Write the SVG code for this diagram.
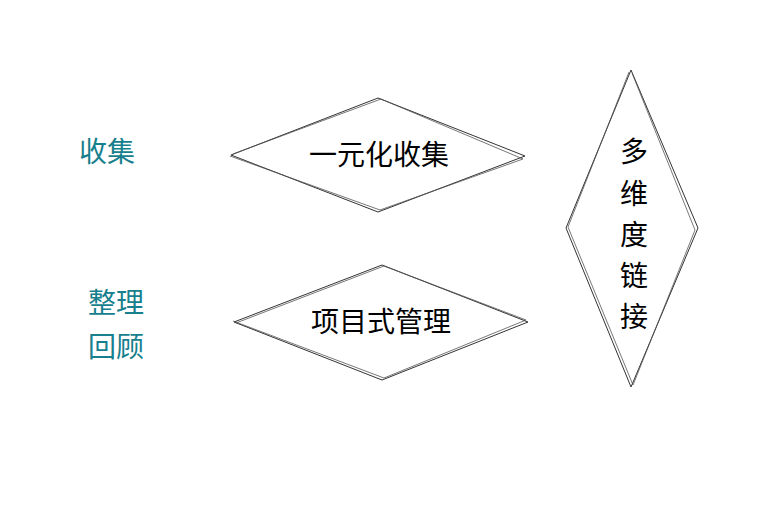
<svg xmlns="http://www.w3.org/2000/svg" width="782" height="506" viewBox="0 0 782 506">
<style>
.sk{fill:none;stroke:#333;stroke-width:1;stroke-linejoin:round}
.sk2{fill:none;stroke:#555;stroke-width:0.8;stroke-linejoin:round}
.bg{fill:#fff;stroke:none}
.t{font-family:"Noto Sans CJK SC","Noto Sans",sans-serif;font-size:28px;font-weight:400;fill:#000;text-anchor:middle;dominant-baseline:central}
.lab{font-family:"Noto Sans CJK SC","Noto Sans",sans-serif;font-size:28px;font-weight:400;fill:#177f8d;text-anchor:middle;dominant-baseline:central}
</style>
<rect width="782" height="506" fill="#fff"/>
<g id="label-collect"><text class="lab" x="107" y="150">收集</text></g>
<g id="label-review"><text class="lab" x="116" y="301">整理</text><text class="lab" x="116" y="345">回顾</text></g>
<g id="node-collect">
<polygon class="bg" points="231,155 378,98 525,155 378,212"/>
<path class="sk" d="M231,155 L378,98 L525,156 L378,212 Z"/>
<path class="sk2" d="M233,154 L381,99 L523,159 L380,210 L230,156"/>
<text class="t" x="379" y="153">一元化收集</text>
</g>
<g id="node-project">
<polygon class="bg" points="234,322 382,265 528,322 382,380"/>
<path class="sk" d="M234,322 L382,265 L528,322 L382,380 Z"/>
<path class="sk2" d="M236,323 L384,266 L526,320 L384,378 L233,321"/>
<text class="t" x="381" y="320">项目式管理</text>
</g>
<g id="node-link">
<polygon class="bg" points="631,70 698,228 631,387 566,228"/>
<path class="sk" d="M631,70 L698,228 L631,387 L566,228 Z"/>
<path class="sk2" d="M632,73 L695,230 L633,385 L568,227 L629,72"/>
<text class="t" x="634" y="150">多</text>
<text class="t" x="634" y="192">维</text>
<text class="t" x="634" y="233">度</text>
<text class="t" x="634" y="274">链</text>
<text class="t" x="634" y="315">接</text>
</g>
<g id="connectors"></g>
</svg>
